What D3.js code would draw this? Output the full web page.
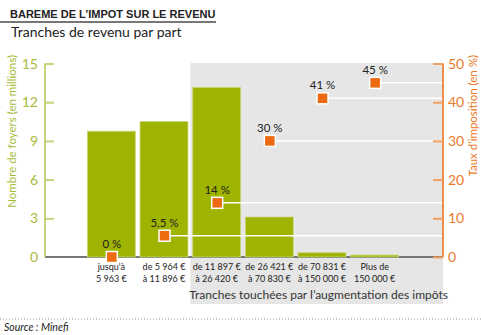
<!DOCTYPE html>
<html><head><meta charset="utf-8">
<script src="https://cdn.jsdelivr.net/npm/d3@7"></script>
<style>body{margin:0;background:#fff}svg{display:block;font-family:Lato,"Open Sans",sans-serif}</style>
</head><body><svg id="c" width="481" height="335"></svg>
<script>
const categories = ["c1","c2","c3","c4","c5","c6"];
const catLine1 = ["jusqu'à","de 5 964 €","de 11 897 €","de 26 421 €","de 70 831 €","Plus de"];
const catLine2 = ["5 963 €","à 11 896 €","à 26 420 €","à 70 830 €","à 150 000 €","150 000 €"];
const foyers = [9.75, 10.5, 13.15, 3.1, 0.33, 0.15];
const taux = [0, 5.5, 14, 30, 41, 45];
const tauxLabels = ["0 %","5,5 %","14 %","30 %","41 %","45 %"];
const leftTicks = [0,3,6,9,12,15];
const rightTicks = [0,10,20,30,40,50];

const svg = d3.select("#c");
const green = "#9fb400", greenAxis = "#c3d47a", greenText = "#a9bb3c", orange = "#ec6a10", orangeText = "#ec7a2a";
const x = d3.scaleBand().domain(categories).range([85, 401]).paddingInner(0.09).paddingOuter(0.045);
const yL = d3.scaleLinear().domain([0,15]).range([257,63.5]);
const yR = d3.scaleLinear().domain([0,50]).range([257,63.5]);
const xL = 45, xR = 443;

// title
svg.append("text").attr("x",10).attr("y",18).attr("font-size",11).attr("font-weight","bold").attr("fill","#222")
  .style("font-family","'Liberation Sans',Arial,sans-serif").text("BAREME DE L’IMPOT SUR LE REVENU");
svg.append("line").attr("x1",0).attr("x2",216).attr("y1",22).attr("y2",22).attr("stroke","#777").attr("stroke-width",2);
svg.append("text").attr("x",11).attr("y",37).attr("font-size",14).attr("fill","#222").text("Tranches de revenu par part");

// grey region
const gx0 = x("c3") - (x.step()-x.bandwidth())/2;
svg.append("rect").attr("x",gx0).attr("y",63).attr("width",xR-gx0).attr("height",304-63).attr("fill","#e6e6e6");
svg.append("text").attr("x",(gx0+xR)/2+2).attr("y",299).attr("text-anchor","middle").attr("font-size",12).attr("fill","#333")
  .text("Tranches touchées par l’augmentation des impôts");

// baseline
svg.append("line").attr("x1",xL).attr("x2",xR).attr("y1",257).attr("y2",257).attr("stroke","#777").attr("stroke-width",2);

// bars
svg.append("g").selectAll("rect").data(foyers).join("rect")
  .attr("x",(d,i)=>x(categories[i])).attr("width",x.bandwidth())
  .attr("y",d=>yL(d)).attr("height",d=>yL(0)-yL(d))
  .attr("fill",green).attr("stroke","#c9d67a").attr("stroke-width",0.8);

// white lines for rates (over bars)
svg.append("g").selectAll("line").data(taux.filter((d,i)=>i>0)).join("line")
  .attr("x1",(d,i)=>x(categories[i+1])+x.bandwidth()/2).attr("x2",xR)
  .attr("y1",d=>yR(d)).attr("y2",d=>yR(d)).attr("stroke","#fff").attr("stroke-width",1.5);

// left axis
const gl = svg.append("g").attr("transform",`translate(${xL},0)`)
  .call(d3.axisRight(yL).tickValues(leftTicks).tickSize(9).tickFormat(""));
gl.select(".domain").attr("stroke",greenAxis).attr("stroke-width",2).attr("d",`M0,${yL(15)}V${yL(0)}`);
gl.selectAll(".tick line").attr("stroke",greenAxis).attr("stroke-width",2);
gl.selectAll(".tick").filter(d=>d===0).select("line").remove();
svg.append("g").selectAll("text").data(leftTicks).join("text")
  .attr("x",38).attr("y",d=>yL(d)+5).attr("text-anchor","end").attr("font-size",14).attr("fill",greenText).text(d=>d);
svg.append("text").attr("transform","translate(16,55) rotate(-90)").attr("text-anchor","end")
  .attr("font-size",11.5).attr("fill",greenText).text("Nombre de foyers (en millions)");

// right axis
const gr = svg.append("g").attr("transform",`translate(${xR},0)`)
  .call(d3.axisLeft(yR).tickValues(rightTicks).tickSize(10).tickFormat(""));
gr.select(".domain").attr("stroke",orange).attr("stroke-width",1.5).attr("d",`M0,${yR(50)}V${yR(0)}`);
gr.selectAll(".tick line").attr("stroke","#f0a060").attr("stroke-width",2);
svg.append("g").selectAll("text").data(rightTicks).join("text")
  .attr("x",448).attr("y",d=>yR(d)+5).attr("text-anchor","start").attr("font-size",14).attr("fill",orangeText).text(d=>d);
svg.append("text").attr("transform","translate(477,55) rotate(-90)").attr("text-anchor","end")
  .attr("font-size",11.5).attr("fill",orangeText).text("Taux d’imposition (en %)");

// markers
svg.append("g").selectAll("rect").data(taux).join("rect")
  .attr("x",(d,i)=>x(categories[i])+x.bandwidth()/2-5).attr("y",d=>yR(d)-5.5)
  .attr("width",11).attr("height",11).attr("fill",orange).attr("stroke","#fff").attr("stroke-width",1.5);
svg.append("g").selectAll("text").data(taux).join("text")
  .attr("x",(d,i)=>x(categories[i])+x.bandwidth()/2+0.5).attr("y",d=>yR(d)-9)
  .attr("text-anchor","middle").attr("font-size",11.5).attr("fill","#222").text((d,i)=>tauxLabels[i]);

// category labels
const cl = svg.append("g").selectAll("g").data(categories).join("g")
  .attr("transform",d=>`translate(${x(d)+x.bandwidth()/2},0)`);
cl.append("text").attr("y",269.5).attr("text-anchor","middle").attr("font-size",9).attr("fill","#222").text((d,i)=>catLine1[i]);
cl.append("text").attr("y",282).attr("text-anchor","middle").attr("font-size",9).attr("fill","#222").text((d,i)=>catLine2[i]);

// footer
svg.append("line").attr("x1",0).attr("x2",481).attr("y1",319).attr("y2",319).attr("stroke","#999").attr("stroke-dasharray","1,2");
svg.append("text").attr("x",4).attr("y",331).attr("font-size",10.5).attr("font-style","italic").attr("fill","#222").text("Source : Minefi");
</script></body></html>
